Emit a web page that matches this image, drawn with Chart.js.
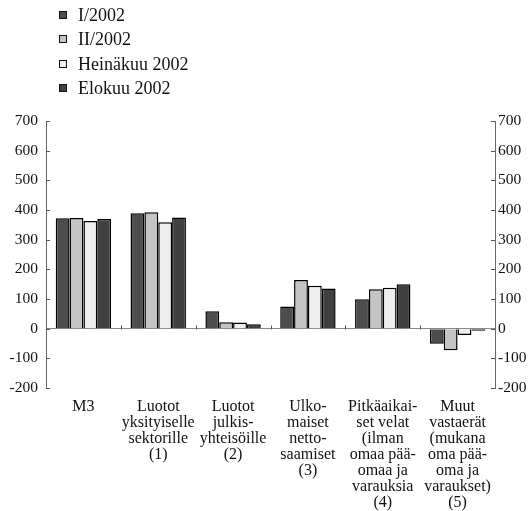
<!DOCTYPE html>
<html>
<head>
<meta charset="utf-8">
<script src="https://cdn.jsdelivr.net/npm/chart.js@4/dist/chart.umd.min.js"></script>
<style>
  html, body { margin: 0; padding: 0; background: #fff; }
  #wrap { position: relative; width: 528px; height: 511px; }
  #legend { position: absolute; left: 59px; top: 3px; font-family: "Liberation Serif", "Times New Roman", serif; font-size: 18px; color: #111; }
  #legend div { height: 24.3px; line-height: 24px; white-space: nowrap; }
  #legend span.box { display: inline-block; width: 6px; height: 6px; border: 1px solid #111; margin-right: 11px; vertical-align: 2px; }
</style>
</head>
<body>
<div id="wrap">
  <div id="legend"></div>
  <canvas id="chart" width="528" height="511"></canvas>
</div>
<script>
// Categories (multi-line tick labels)
const categories = [
    'M3',
    ['Luotot', 'yksityiselle', 'sektorille', '(1)'],
    ['Luotot', 'julkis-', 'yhteisöille', '(2)'],
    ['Ulko-', 'maiset', 'netto-', 'saamiset', '(3)'],
    ['Pitkäaikai-', 'set velat', '(ilman', 'omaa pää-', 'omaa ja', 'varauksia', '(4)'],
    ['Muut', 'vastaerät', '(mukana', 'oma pää-', 'oma ja', 'varaukset)', '(5)']
];

// Series values
const seriesNames = ['I/2002', 'II/2002', 'Heinäkuu 2002', 'Elokuu 2002'];
const valuesI2002 = [372, 389, 59, 75, 99, -51];
const valuesII2002 = [373, 392, 22, 164, 133, -73];
const valuesHeinakuu = [363, 359, 21, 145, 138, -21];
const valuesElokuu = [370, 375, 15, 135, 150, -7];

// Axis range
const yMin = -200;
const yMax = 700;
const yStep = 100;

const fillColors = ['#4d4d4d', '#c4c4c4', '#eeeeee', '#404040'];
const serifFont = '"Liberation Serif", "Times New Roman", serif';

// Build the HTML legend (stacked like the original)
const legendEl = document.getElementById('legend');
seriesNames.forEach((name, i) => {
    const row = document.createElement('div');
    const box = document.createElement('span');
    box.className = 'box';
    box.style.background = fillColors[i];
    row.appendChild(box);
    row.appendChild(document.createTextNode(name));
    legendEl.appendChild(row);
});

// Small inward tick marks, like the original
const innerTicks = {
    id: 'innerTicks',
    afterDraw(chart) {
        const c = chart.ctx;
        const y = chart.scales.y;
        const y2 = chart.scales.y2;
        const x = chart.scales.x;
        c.save();
        c.strokeStyle = '#555';
        c.lineWidth = 1;
        c.beginPath();
        y.ticks.forEach(t => {
            const py = Math.round(y.getPixelForValue(t.value)) + 0.5;
            c.moveTo(y.right, py);
            c.lineTo(y.right + 4, py);
            c.moveTo(y2.left - 4, py);
            c.lineTo(y2.left, py);
        });
        // category separators on the zero line
        const zero = Math.round(y.getPixelForValue(0)) + 0.5;
        for (let i = 0; i < categories.length - 1; i++) {
            const px = Math.round((x.getPixelForValue(i) + x.getPixelForValue(i + 1)) / 2) + 0.5;
            c.moveTo(px, zero);
            c.lineTo(px, zero - 4);
        }
        c.stroke();
        c.restore();
    }
};

const allValues = [valuesI2002, valuesII2002, valuesHeinakuu, valuesElokuu];

const ctx = document.getElementById('chart').getContext('2d');
new Chart(ctx, {
    type: 'bar',
    data: {
        labels: categories,
        datasets: seriesNames.map((name, i) => ({
            label: name,
            data: allValues[i],
            backgroundColor: fillColors[i],
            borderColor: '#000',
            borderWidth: 1.5,
            categoryPercentage: 0.74,
            barPercentage: 1.0
        }))
    },
    options: {
        responsive: false,
        animation: false,
        layout: { padding: { top: 121, left: 0, right: 0, bottom: 0 } },
        plugins: {
            legend: { display: false },
            tooltip: { enabled: false }
        },
        scales: {
            x: {
                grid: { display: false },
                border: { display: false },
                ticks: {
                    color: '#111',
                    padding: 3,
                    maxRotation: 0,
                    autoSkip: false,
                    font: { family: serifFont, size: 16, lineHeight: 1.0 }
                },
                afterFit: s => { s.height = 123; }
            },
            y: {
                min: yMin,
                max: yMax,
                position: 'left',
                border: { display: true, color: '#666', width: 1 },
                grid: {
                    drawTicks: false,
                    color: c => (c.tick && c.tick.value === 0 ? '#888' : 'rgba(0,0,0,0)')
                },
                ticks: {
                    stepSize: yStep,
                    color: '#111',
                    padding: 8,
                    font: { family: serifFont, size: 15.5 }
                },
                afterFit: s => { s.width = 46; }
            },
            y2: {
                min: yMin,
                max: yMax,
                position: 'right',
                border: { display: true, color: '#666', width: 1 },
                grid: { drawOnChartArea: false, drawTicks: false },
                ticks: {
                    stepSize: yStep,
                    color: '#111',
                    padding: 3,
                    font: { family: serifFont, size: 15.5 }
                },
                afterFit: s => { s.width = 33; }
            }
        }
    },
    plugins: [innerTicks]
});
</script>
</body>
</html>
